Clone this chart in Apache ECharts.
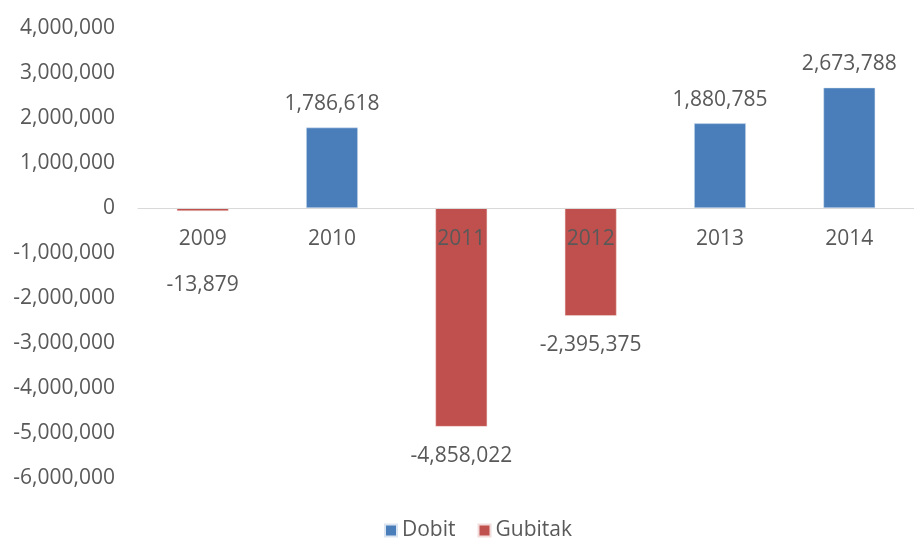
<!DOCTYPE html>
<html>
<head>
<meta charset="utf-8">
<script src="https://cdn.jsdelivr.net/npm/echarts@6/dist/echarts.min.js"></script>
<style>
  html, body { margin: 0; padding: 0; background: #fff; }
  #chart { width: 914px; height: 539px; }
</style>
</head>
<body>
<div id="chart"></div>
<script>
// * Categories and values
const years = ["2009", "2010", "2011", "2012", "2013", "2014"];
const dobit = [null, 1786618, null, null, 1880785, 2673788];
const gubitak = [-13879, null, -4858022, -2395375, null, null];
const textColor = "#595959";
const fontFamily = "'Open Sans', 'Noto Sans', sans-serif";

const fmt = (v) => Math.round(v).toLocaleString("en-US");

const myChart = echarts.init(document.getElementById("chart"));

// * Grid geometry: zero sits 40% down the plot height
const gridTop = 28;
const gridBottom = 61;
const plotHeight = 539 - gridTop - gridBottom;
const zeroOffset = -plotHeight * 0.6;

const option = {
  animation: false,
  textStyle: { fontFamily: fontFamily },
  grid: { left: 138, right: 0, top: gridTop, bottom: gridBottom },
  legend: {
    top: 515,
    left: 379,
    itemWidth: 12,
    itemHeight: 12,
    itemGap: 22,
    icon: "rect",
    textStyle: { color: textColor, fontSize: 21, fontFamily: fontFamily },
    data: ["Dobit", "Gubitak"],
  },
  xAxis: {
    type: "category",
    data: years,
    z: 10,
    // ? Axis is lifted to the zero line with offset so labels follow it
    offset: zeroOffset,
    axisLine: { onZero: false, lineStyle: { color: "#d9d9d9", width: 1 } },
    axisTick: { show: false },
    axisLabel: { color: textColor, fontSize: 21, margin: 21 },
  },
  yAxis: {
    type: "value",
    min: -6000000,
    max: 4000000,
    interval: 1000000,
    splitLine: { show: false },
    axisLine: { show: false },
    axisTick: { show: false },
    axisLabel: { color: textColor, fontSize: 21, margin: 23, formatter: fmt },
  },
  series: [
    {
      name: "Dobit",
      type: "bar",
      stack: "total",
      barWidth: "40%",
      data: dobit,
      itemStyle: { color: "#4a7ebb", borderColor: "#dbe5f1", borderWidth: 0.5 },
      label: {
        show: true,
        position: "top",
        distance: 13,
        color: textColor,
        fontSize: 21,
        formatter: (p) => fmt(p.value),
      },
    },
    {
      name: "Gubitak",
      type: "bar",
      stack: "total",
      barWidth: "40%",
      barMinHeight: 3,
      // ! 2009 label is pushed below the category label, as in the picture
      data: gubitak.map((v, i) =>
        i === 0 ? { value: v, label: { distance: 64 } } : v
      ),
      itemStyle: { color: "#c0504d", borderColor: "#f2dcdb", borderWidth: 0.5 },
      label: {
        show: true,
        position: "bottom",
        distance: 19,
        color: textColor,
        fontSize: 21,
        formatter: (p) => fmt(p.value),
      },
    },
  ],
};

myChart.setOption(option);
</script>
</body>
</html>
